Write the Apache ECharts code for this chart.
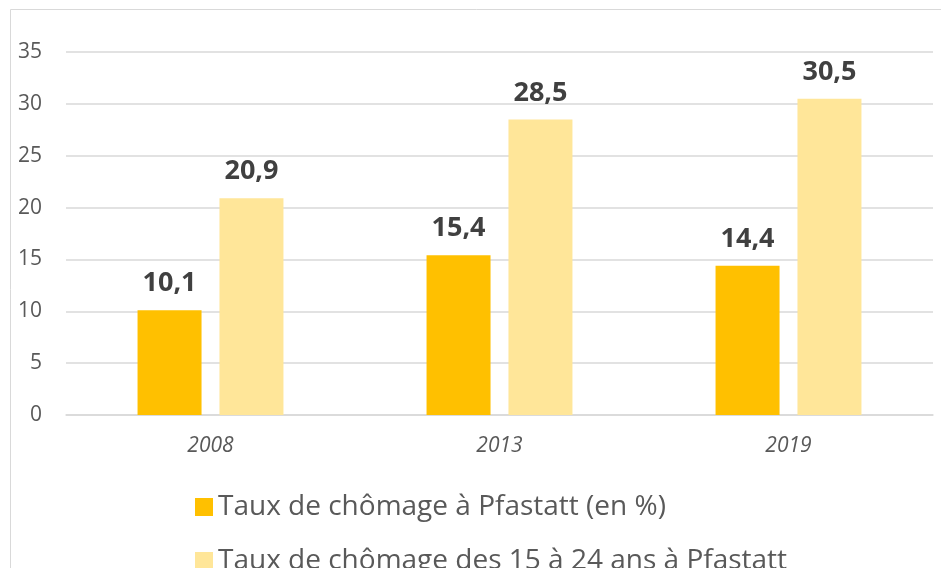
<!DOCTYPE html>
<html>
<head>
<meta charset="utf-8">
<script src="https://cdn.jsdelivr.net/npm/echarts@6/dist/echarts.min.js"></script>
<style>
  html, body { margin: 0; padding: 0; background: #fff; }
  #main { width: 941px; height: 568px; }
</style>
</head>
<body>
<div id="main"></div>
<script>
const years = ['2008', '2013', '2019'];
const seriesNames = ['Taux de chômage à Pfastatt (en %)', 'Taux de chômage des 15 à 24 ans à Pfastatt'];
const tauxTotal = [10.1, 15.4, 14.4];
const tauxJeunes = [20.9, 28.5, 30.5];
const colors = ['#FFC000', '#FFE699'];

const fontFam = '"Open Sans", "Noto Sans", sans-serif';

const labelStyle = {
    show: true,
    position: 'top',
    distance: 13,
    fontFamily: fontFam,
    fontSize: 27,
    fontWeight: 'bold',
    color: '#404040',
    formatter: p => String(p.value).replace('.', ',')
};

function legendItem(name, top) {
    return {
        left: 190,
        top: top,
        itemWidth: 18,
        itemHeight: 18,
        icon: 'rect',
        textStyle: { fontFamily: fontFam, fontSize: 28, color: '#595959' },
        data: [name]
    };
}

const chart = echarts.init(document.getElementById('main'));
chart.setOption({
    animation: false,
    graphic: [{
        type: 'rect',
        shape: { x: 10.5, y: 9.5, width: 1000, height: 1000 },
        style: { fill: 'none', stroke: '#d9d9d9', lineWidth: 1 },
        silent: true
    }],
    grid: { left: 66, right: 8, top: 52, bottom: 153 },
    legend: [legendItem(seriesNames[0], 488), legendItem(seriesNames[1], 542)],
    xAxis: {
        type: 'category',
        data: years,
        axisLine: { lineStyle: { color: '#d9d9d9', width: 1.5 } },
        axisTick: { show: false },
        axisLabel: { fontFamily: fontFam, fontSize: 21, fontStyle: 'italic', color: '#595959', margin: 21 }
    },
    yAxis: {
        type: 'value',
        min: 0,
        max: 35,
        interval: 5,
        axisLine: { show: false },
        axisTick: { show: false },
        splitLine: { lineStyle: { color: '#d9d9d9', width: 1.5 } },
        axisLabel: { fontFamily: fontFam, fontSize: 21, color: '#595959', margin: 24 }
    },
    series: [
        {
            name: seriesNames[0],
            type: 'bar',
            data: tauxTotal,
            barWidth: 64,
            barGap: '28%',
            itemStyle: { color: colors[0] },
            label: labelStyle
        },
        {
            name: seriesNames[1],
            type: 'bar',
            data: tauxJeunes,
            barWidth: 64,
            itemStyle: { color: colors[1] },
            label: labelStyle
        }
    ]
});
</script>
</body>
</html>
